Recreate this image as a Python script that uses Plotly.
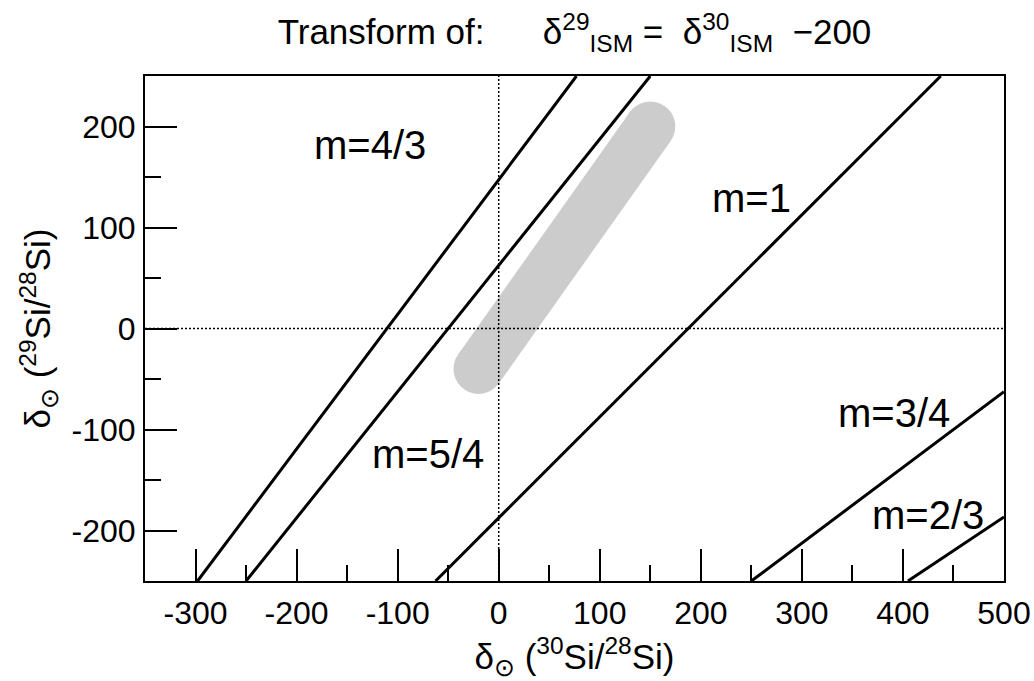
import plotly.graph_objects as go

# Lines (endpoints in data coords): delta30 (x) and delta29 (y)
line_names = ["m=4/3", "m=5/4", "m=1", "m=3/4", "m=2/3"]
line_x = [[-298, 77], [-250, 150], [-62.5, 437.5], [250, 500], [405, 500]]
line_y = [[-250, 250], [-250, 250], [-250, 250], [-250, -62.5], [-250, -186.7]]

# Labels
label_text = ["m=4/3", "m=5/4", "m=1", "m=3/4", "m=2/3"]
label_x = [-127, -70, 250, 391, 425]
label_y = [182, -124, 129, -84, -185]

# Gray band (ISM range)
band_x = [-20, 150]
band_y = [-40, 200]

# Axes
x_range = [-350, 500]
y_range = [-250, 250]
x_ticks = [-300, -200, -100, 0, 100, 200, 300, 400, 500]
x_ticktext = ["-300", "-200", "-100", "0", "100", "200", "300", "400", "500"]
y_ticks = [-200, -100, 0, 100, 200]
y_ticktext = ["-200", "-100", "0", "100", "200"]

FONT = "Liberation Sans, Arial, sans-serif"

fig = go.Figure()

fig.add_trace(go.Scatter(
    x=band_x, y=band_y, mode="lines+markers",
    line=dict(color="#cccccc", width=50),
    marker=dict(color="#cccccc", size=50, line=dict(width=0)),
    hoverinfo="skip", showlegend=False))

# dotted zero lines
fig.add_trace(go.Scatter(x=[0, 0], y=y_range, mode="lines",
                         line=dict(color="black", width=1.5, dash="2px,2px"),
                         showlegend=False, hoverinfo="skip"))
fig.add_trace(go.Scatter(x=x_range, y=[0, 0], mode="lines",
                         line=dict(color="black", width=1.5, dash="2px,2px"),
                         showlegend=False, hoverinfo="skip"))

for name, xs, ys in zip(line_names, line_x, line_y):
    fig.add_trace(go.Scatter(x=xs, y=ys, mode="lines", name=name,
                             line=dict(color="black", width=3),
                             showlegend=False))

for t, lx, ly in zip(label_text, label_x, label_y):
    fig.add_annotation(x=lx, y=ly, text=t, showarrow=False,
                       font=dict(family=FONT, size=40, color="black"),
                       xanchor="center", yanchor="middle")

nb = "\u00a0"
title = ("Transform of:" + nb * 6 + "δ<sup>29</sup><sub>ISM</sub>" + nb + "=" + nb * 2 +
         "δ<sup>30</sup><sub>ISM</sub>" + nb * 2 + "\u2212200")

fig.update_layout(
    width=1034, height=681,
    margin=dict(l=145, r=30, t=76, b=100, autoexpand=False),
    paper_bgcolor="white", plot_bgcolor="white",
    font=dict(family=FONT, color="black", size=32),
    title=dict(text=title, x=(145 + 1004) / 2 / 1034, xanchor="center",
               y=1 - 32 / 681, yanchor="middle",
               font=dict(family=FONT, size=35, color="black")),
    xaxis=dict(range=x_range, tickvals=x_ticks, ticktext=x_ticktext,
               ticks="inside", ticklen=32, automargin=False,
               tickwidth=1.5, tickcolor="black", showgrid=False, zeroline=False,
               showline=True, linecolor="black", linewidth=2, mirror=True,
               ticklabelstandoff=3,
               tickfont=dict(family=FONT, size=32),
               minor=dict(dtick=50, tick0=0, ticks="inside", ticklen=16,
                          tickwidth=1.5, tickcolor="black", showgrid=False),
               title=dict(text="δ<sub>⊙</sub> (<sup>30</sup>Si/<sup>28</sup>Si)",
                          font=dict(family=FONT, size=35), standoff=21)),
    yaxis=dict(range=y_range, tickvals=y_ticks, ticktext=y_ticktext,
               ticks="inside", ticklen=32, automargin=False,
               tickwidth=1.5, tickcolor="black", showgrid=False, zeroline=False,
               showline=True, linecolor="black", linewidth=2, mirror=True,
               ticklabelstandoff=1,
               tickfont=dict(family=FONT, size=32),
               minor=dict(dtick=50, tick0=0, ticks="inside", ticklen=16,
                          tickwidth=1.5, tickcolor="black", showgrid=False),
               title=dict(text="δ<sub>⊙</sub> (<sup>29</sup>Si/<sup>28</sup>Si)",
                          font=dict(family=FONT, size=35), standoff=10)),
)

fig.write_html("out.html", config={"displayModeBar": False},
               post_script="document.body.style.margin='0';document.body.style.overflow='hidden';")
